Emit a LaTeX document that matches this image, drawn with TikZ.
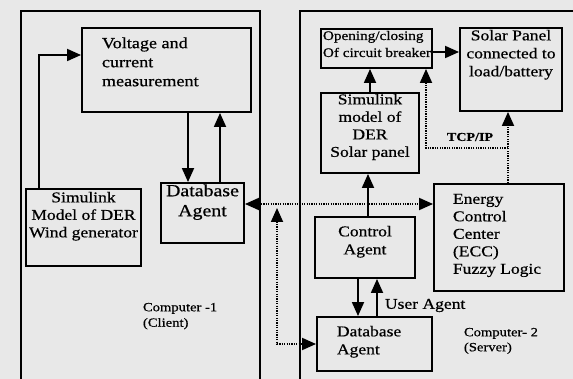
\documentclass[tikz,border=0pt]{standalone}
\usepackage{fontspec}
\setmainfont[FakeStretch=1.17,FakeBold=0.6]{Liberation Serif}
\usetikzlibrary{arrows.meta}
\definecolor{paper}{RGB}{232,232,232}

\begin{document}
\begin{tikzpicture}[x=1pt,y=-1pt,line width=1.9pt,
  tip/.tip={Triangle[length=14pt,width=12pt]},
  box/.style={draw,line width=1.9pt,inner sep=0pt},
  txt/.style={inner sep=0pt,font=\fontsize{15}{17.5}\selectfont},
  arr/.style={-tip,line width=1.8pt},
  darr/.style={arr,dash pattern=on 1.3pt off 1.1pt,line width=1.8pt}]
\useasboundingbox (0,0) rectangle (573,379);
% background and the two computers
\fill[paper] (0,0) rectangle (573,379);
\clip (0,0) rectangle (573,379);
\draw (21,390) |- (260,11) -- (260,390);
\draw (300,390) |- (590,11);
% computer 1
\node[box,minimum width=169,minimum height=84] (volt) at (166.5,70) {};
\node[txt,anchor=north west,align=left,font=\fontsize{15.5}{19}\selectfont] (volttxt) at (101,36.5) {Voltage and\\current\\measurement};
\node[box,minimum width=83,minimum height=60] (dbl) at (202.5,213) {};
\node[txt,anchor=north,align=center,font=\fontsize{17}{20}\selectfont] (dbltxt) at (202.5,183.5) {Database\\Agent};
\node[box,minimum width=115,minimum height=77] (wind) at (83.5,227.5) {};
\node[txt,anchor=north,align=center] (windtxt) at (83.5,191) {Simulink\\Model of DER\\Wind generator};
\node[txt,anchor=north west,align=left,font=\fontsize{12.5}{15.5}\selectfont] (pc1) at (142,302) {Computer -1\\(Client)};
% computer 2
\node[box,minimum width=111,minimum height=39] (open) at (376.5,48.5) {};
\node[txt,anchor=north west,align=left,font=\fontsize{13}{17}\selectfont] (opentxt) at (322,30) {Opening/closing\\Of circuit breaker};
\node[box,minimum width=102,minimum height=83] (solar) at (511,69.5) {};
\node[txt,anchor=north,align=center,font=\fontsize{15}{18}\selectfont] (solartxt) at (511,29) {Solar Panel\\connected to\\load/battery};
\node[box,minimum width=98,minimum height=80] (sims) at (370,133) {};
\node[txt,anchor=north,align=center] (simstxt) at (370,93) {Simulink\\model of\\DER\\Solar panel};
\node[box,minimum width=100,minimum height=61] (ctrl) at (365,247.5) {};
\node[txt,anchor=north,align=center,font=\fontsize{15}{18}\selectfont] (ctrltxt) at (365,225) {Control\\Agent};
\node[box,minimum width=130,minimum height=107] (ecc) at (499,237.5) {};
\node[txt,anchor=north west,align=left] (ecctxt) at (452,193) {Energy\\Control\\Center\\(ECC)\\Fuzzy Logic};
\node[box,minimum width=115,minimum height=54] (dbr) at (374.5,344) {};
\node[txt,anchor=north west,align=left,font=\fontsize{15}{18}\selectfont] (dbrtxt) at (336,325) {Database\\Agent};
\node[txt,anchor=north west,align=left,font=\fontsize{12.5}{15}\selectfont] (pc2) at (463,327) {Computer- 2\\(Server)};
\node[txt,anchor=north west] (user) at (384,298) {User Agent};
\node[txt,anchor=north west,font=\fontsize{12}{14}\bfseries] (tcp) at (446,132) {TCP/IP};
% solid links
\draw[arr] ([xshift=-44.5]wind.north) |- ([yshift=15]volt.west);
\draw[arr] ([xshift=-14.5]dbl.north |- volt.south) -- ([xshift=-14.5]dbl.north);
\draw[arr] ([xshift=17.5]dbl.north) -- ([xshift=17.5]dbl.north |- volt.south);
\draw[arr] (sims.north) -- (sims.north |- open.south);
\draw[arr] ([yshift=-3.5]open.east) -- ([yshift=-3.5]open.east -| solar.west);
\draw[arr] ([xshift=3]ctrl.north) -- ([xshift=3]ctrl.north |- sims.south);
\draw[arr] ([xshift=-7]ctrl.south) -- ([xshift=-7]ctrl.south |- dbr.north);
\draw[arr] ([xshift=12]ctrl.south |- dbr.north) -- ([xshift=12]ctrl.south);
% network links
\coordinate (tap) at (277,208);
\coordinate (tcpjoin) at (508,148);
\draw[darr,tip-tip] ([yshift=9]dbl.east) -- ([yshift=9]dbl.east -| ecc.west);
\draw[darr,tip-tip] (tap) |- (dbr.west);
\draw[darr] ([xshift=9]ecc.north) -- ([xshift=9]ecc.north |- solar.south);
\draw[darr] (tcpjoin) -| ([xshift=49.5]open.south);
\end{tikzpicture}
\end{document}
